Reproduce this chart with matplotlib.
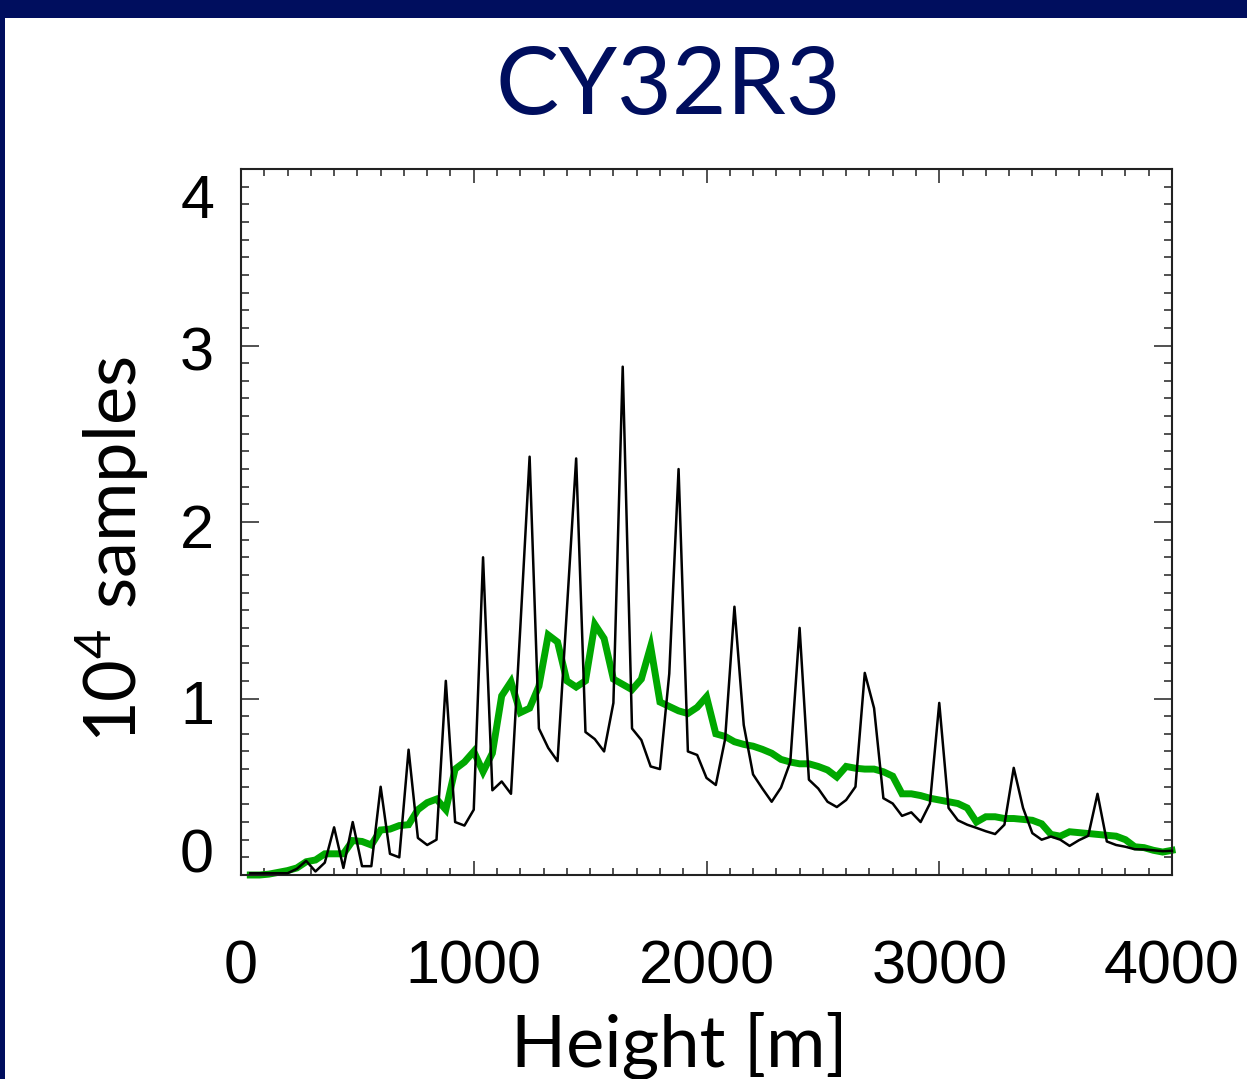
import matplotlib
matplotlib.use("Agg")
import matplotlib.pyplot as plt
from matplotlib.patches import Rectangle
from matplotlib.ticker import MultipleLocator

# ---- data (values in units of 10^4 samples) ----
heights = list(range(40, 4001, 40))

obs_counts = [
    0.01, 0.01, 0.01, 0.01, 0.01, 0.035, 0.08, 0.02, 0.07, 0.27,
    0.04, 0.30, 0.05, 0.05, 0.50, 0.12, 0.10, 0.71, 0.21, 0.17,
    0.20, 1.10, 0.30, 0.28, 0.37, 1.80, 0.48, 0.53, 0.46, 1.40,
    2.37, 0.83, 0.72, 0.645, 1.50, 2.36, 0.81, 0.77, 0.70, 0.975,
    2.88, 0.83, 0.765, 0.615, 0.60, 1.14, 2.30, 0.70, 0.68, 0.55,
    0.51, 0.77, 1.52, 0.85, 0.57, 0.49, 0.415, 0.495, 0.64, 1.40,
    0.54, 0.49, 0.415, 0.385, 0.425, 0.50, 1.145, 0.945, 0.435, 0.405,
    0.335, 0.355, 0.30, 0.405, 0.975, 0.38, 0.31, 0.285, 0.267, 0.248,
    0.232, 0.285, 0.607, 0.38, 0.237, 0.20, 0.218, 0.20, 0.165, 0.197,
    0.222, 0.46, 0.19, 0.17, 0.16, 0.146, 0.145, 0.14, 0.135, 0.137,
]

model_counts = [
    0.0, 0.0, 0.005, 0.015, 0.025, 0.04, 0.075, 0.085, 0.12, 0.12,
    0.12, 0.195, 0.19, 0.17, 0.255, 0.26, 0.28, 0.285, 0.37, 0.41,
    0.43, 0.37, 0.60, 0.64, 0.70, 0.585, 0.69, 1.015, 1.095, 0.92,
    0.945, 1.07, 1.36, 1.32, 1.10, 1.065, 1.10, 1.42, 1.34, 1.11,
    1.08, 1.05, 1.11, 1.295, 0.98, 0.955, 0.93, 0.915, 0.95, 1.01,
    0.80, 0.785, 0.755, 0.74, 0.73, 0.712, 0.69, 0.655, 0.64, 0.63,
    0.63, 0.615, 0.595, 0.555, 0.615, 0.605, 0.60, 0.60, 0.585, 0.56,
    0.46, 0.46, 0.45, 0.435, 0.425, 0.415, 0.405, 0.38, 0.30, 0.33,
    0.33, 0.32, 0.32, 0.315, 0.31, 0.29, 0.23, 0.22, 0.245, 0.24,
    0.235, 0.23, 0.225, 0.22, 0.20, 0.16, 0.155, 0.14, 0.13, 0.14,
]

x_tick_values = [0, 1000, 2000, 3000, 4000]
x_tick_labels = ["0", "1000", "2000", "3000", "4000"]
y_tick_values = [0, 1, 2, 3, 4]
y_tick_labels = ["0", "1", "2", "3", "4"]

title_text = "CY32R3"
xlabel_text = "Height [m]"
ylabel_text = r"10$^{4}$ samples"

NAVY = "#000E5E"
GREEN = "#00A800"

plt.rcParams["mathtext.fontset"] = "custom"
plt.rcParams["mathtext.rm"] = "Lato"
plt.rcParams["mathtext.it"] = "Lato"

W, H = 1247, 1079
fig = plt.figure(figsize=(W / 100, H / 100), dpi=100)
fig.patch.set_facecolor("white")

# slide frame
fig.patches.append(Rectangle((0, 1 - 18 / H), 1, 18 / H, transform=fig.transFigure,
                             facecolor=NAVY, edgecolor="none", zorder=0))
fig.patches.append(Rectangle((0, 0), 5 / W, 1, transform=fig.transFigure,
                             facecolor=NAVY, edgecolor="none", zorder=0))

left, right = 241 / W, 1172 / W
bottom, top = (H - 875) / H, (H - 169) / H
ax = fig.add_axes([left, bottom, right - left, top - bottom])

ax.plot(heights, model_counts, color=GREEN, lw=5.0, solid_joinstyle="miter",
        clip_on=False, zorder=2)
ax.plot(heights, obs_counts, color="black", lw=1.8, clip_on=False, zorder=3)

ax.set_xlim(0, 4000)
ax.set_ylim(0, 4)

ax.xaxis.set_major_locator(MultipleLocator(1000))
ax.xaxis.set_minor_locator(MultipleLocator(100))
ax.yaxis.set_major_locator(MultipleLocator(1))
ax.yaxis.set_minor_locator(MultipleLocator(0.1))
ax.tick_params(axis="both", which="both", direction="in", top=True, right=True,
               labelbottom=False, labelleft=False, color="#222222", width=1.1)
ax.tick_params(axis="x", which="major", length=10)
ax.tick_params(axis="x", which="minor", length=5)
ax.tick_params(axis="y", which="major", length=13)
ax.tick_params(axis="y", which="minor", length=6)
for sp in ax.spines.values():
    sp.set_linewidth(1.5)
    sp.set_color("#222222")

# tick labels placed as in the original (IDL-style offsets)
tick_font = dict(family=["Liberation Sans", "DejaVu Sans"], fontsize=44, color="black")
x_label_y = -93 / 176.25
for v, lab in zip(x_tick_values, x_tick_labels):
    ax.text(v, x_label_y, lab, transform=ax.transData,
            ha="center", va="center", **tick_font)

y_label_pix = {0: 857, 1: 708, 2: 532, 3: 355, 4: 203}
for v, lab in zip(y_tick_values, y_tick_labels):
    ypix = y_label_pix[v]
    fig.text(214 / W, 1 - ypix / H, lab, ha="right", va="center", **tick_font)

fig.text(668 / W, 1 - 88 / H, title_text, ha="center", va="center",
         family=["Lato", "DejaVu Sans"], fontsize=68, color=NAVY)
fig.text(679 / W, 1 - 1046 / H, xlabel_text, ha="center", va="center",
         family=["Lato", "DejaVu Sans"], fontsize=52, color="black")
fig.text(112 / W, 1 - 550 / H, ylabel_text, ha="center", va="center", rotation=90,
         family=["Lato", "DejaVu Sans"], fontsize=52, color="black")

fig.savefig("out.png", dpi=100, facecolor="white")
